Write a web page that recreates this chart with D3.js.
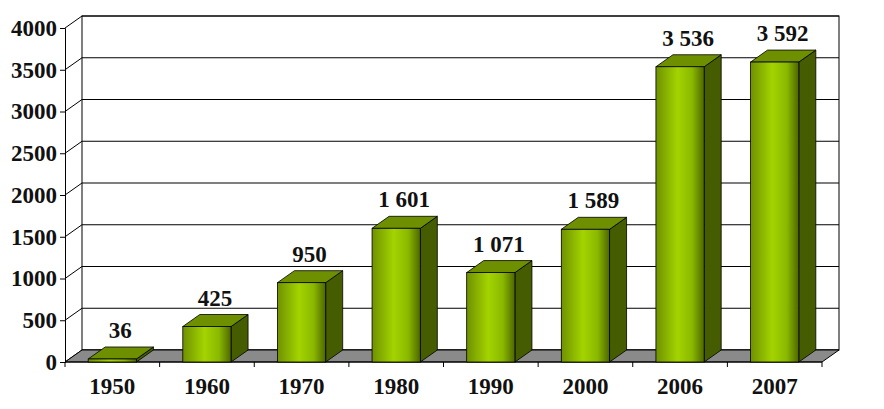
<!DOCTYPE html>
<html><head><meta charset="utf-8">
<script src="https://cdn.jsdelivr.net/npm/d3@7"></script>
<style>body{margin:0;background:#fff}text{font-family:"Liberation Serif","DejaVu Serif",serif !important;font-weight:bold;fill:#111}</style>
</head><body><svg id="c" width="884" height="409"></svg>
<script>
const years = ['1950','1960','1970','1980','1990','2000','2006','2007'];
const values = [36, 425, 950, 1601, 1071, 1589, 3536, 3592];
const yTicks = [0, 500, 1000, 1500, 2000, 2500, 3000, 3500, 4000];

const svg = d3.select('#c');
const dx = 17, dy = -12;            // depth offset
const x0 = 65, x1 = 822, yBase = 362, yTop = 28;
const x = d3.scaleBand().domain(years).range([x0, x1]).paddingInner(0.49).paddingOuter(0.245);
const y = d3.scaleLinear().domain([0, 4000]).range([yBase, yTop]);
const fmt = v => d3.format(',')(v).replace(',', '\u00a0');

// defs: gradients
const defs = svg.append('defs');
const gf = defs.append('linearGradient').attr('id', 'front');
[['0%', '#6f9100'], ['45%', '#a3d400'], ['75%', '#8ab800'], ['100%', '#4d6600']]
  .forEach(([o, c]) => gf.append('stop').attr('offset', o).attr('stop-color', c));

// back wall + gridlines
const g = svg.append('g');
g.append('rect').attr('x', x0 + dx).attr('y', yTop + dy).attr('width', x1 - x0)
  .attr('height', yBase - yTop).attr('fill', 'none').attr('stroke', '#000');
yTicks.forEach(t => {
  g.append('line').attr('x1', x0 + dx).attr('x2', x1 + dx).attr('y1', y(t) + dy).attr('y2', y(t) + dy)
    .attr('stroke', '#000').attr('stroke-width', 1.2);
  g.append('line').attr('x1', x0).attr('x2', x0 + dx).attr('y1', y(t)).attr('y2', y(t) + dy).attr('stroke', '#000');
});

// floor
g.append('polygon').attr('points', [[x0, yBase], [x0 + dx, yBase + dy], [x1 + dx, yBase + dy], [x1, yBase]].join(' '))
  .attr('fill', '#8a8a8a').attr('stroke', '#000');

// front y axis
const yAxis = svg.append('g').attr('transform', `translate(${x0},0)`)
  .call(d3.axisLeft(y).tickValues(yTicks).tickSize(5).tickPadding(3).tickFormat(d => d));
yAxis.attr('font-family', null).attr('font-size', null);
yAxis.selectAll('text').style('font-size', '23px').attr('fill', '#111');
yAxis.selectAll('line,path').attr('stroke', '#000');

// x axis
const xAxis = svg.append('g').attr('transform', `translate(0,${yBase})`);
xAxis.append('line').attr('x1', x0).attr('x2', x1).attr('stroke', '#000');
const step = x.step();
d3.range(years.length + 1).forEach(i => {
  const xx = x0 + i * step;
  xAxis.append('line').attr('x1', xx).attr('x2', xx).attr('y1', 0).attr('y2', 5).attr('stroke', '#000');
});
xAxis.selectAll('text.cat').data(years).enter().append('text').attr('class', 'cat')
  .attr('x', d => x(d) + x.bandwidth() / 2).attr('y', 32).attr('text-anchor', 'middle')
  .style('font-size', '23px').text(d => d);

// bars
const bars = svg.append('g').selectAll('g').data(years.map((d, i) => ({ year: d, v: values[i] }))).enter().append('g');
const bw = x.bandwidth();
bars.append('polygon').attr('fill', '#455c00').attr('stroke', '#000').attr('stroke-width', 0.8)
  .attr('points', d => { const a = x(d.year) + bw, t = y(d.v);
    return [[a, yBase], [a, t], [a + dx, t + dy], [a + dx, yBase + dy]].join(' '); });
bars.append('polygon').attr('fill', '#6e8f00').attr('stroke', '#000').attr('stroke-width', 0.8)
  .attr('points', d => { const a = x(d.year), t = y(d.v);
    return [[a, t], [a + dx, t + dy], [a + bw + dx, t + dy], [a + bw, t]].join(' '); });
bars.append('rect').attr('x', d => x(d.year)).attr('y', d => y(d.v)).attr('width', bw)
  .attr('height', d => yBase - y(d.v)).attr('fill', 'url(#front)').attr('stroke', '#000').attr('stroke-width', 0.8);
bars.append('text').attr('x', d => x(d.year) + bw / 2 + 8).attr('y', d => y(d.v) - 21)
  .attr('text-anchor', 'middle').style('font-size', '23px').text(d => fmt(d.v));
</script></body></html>
